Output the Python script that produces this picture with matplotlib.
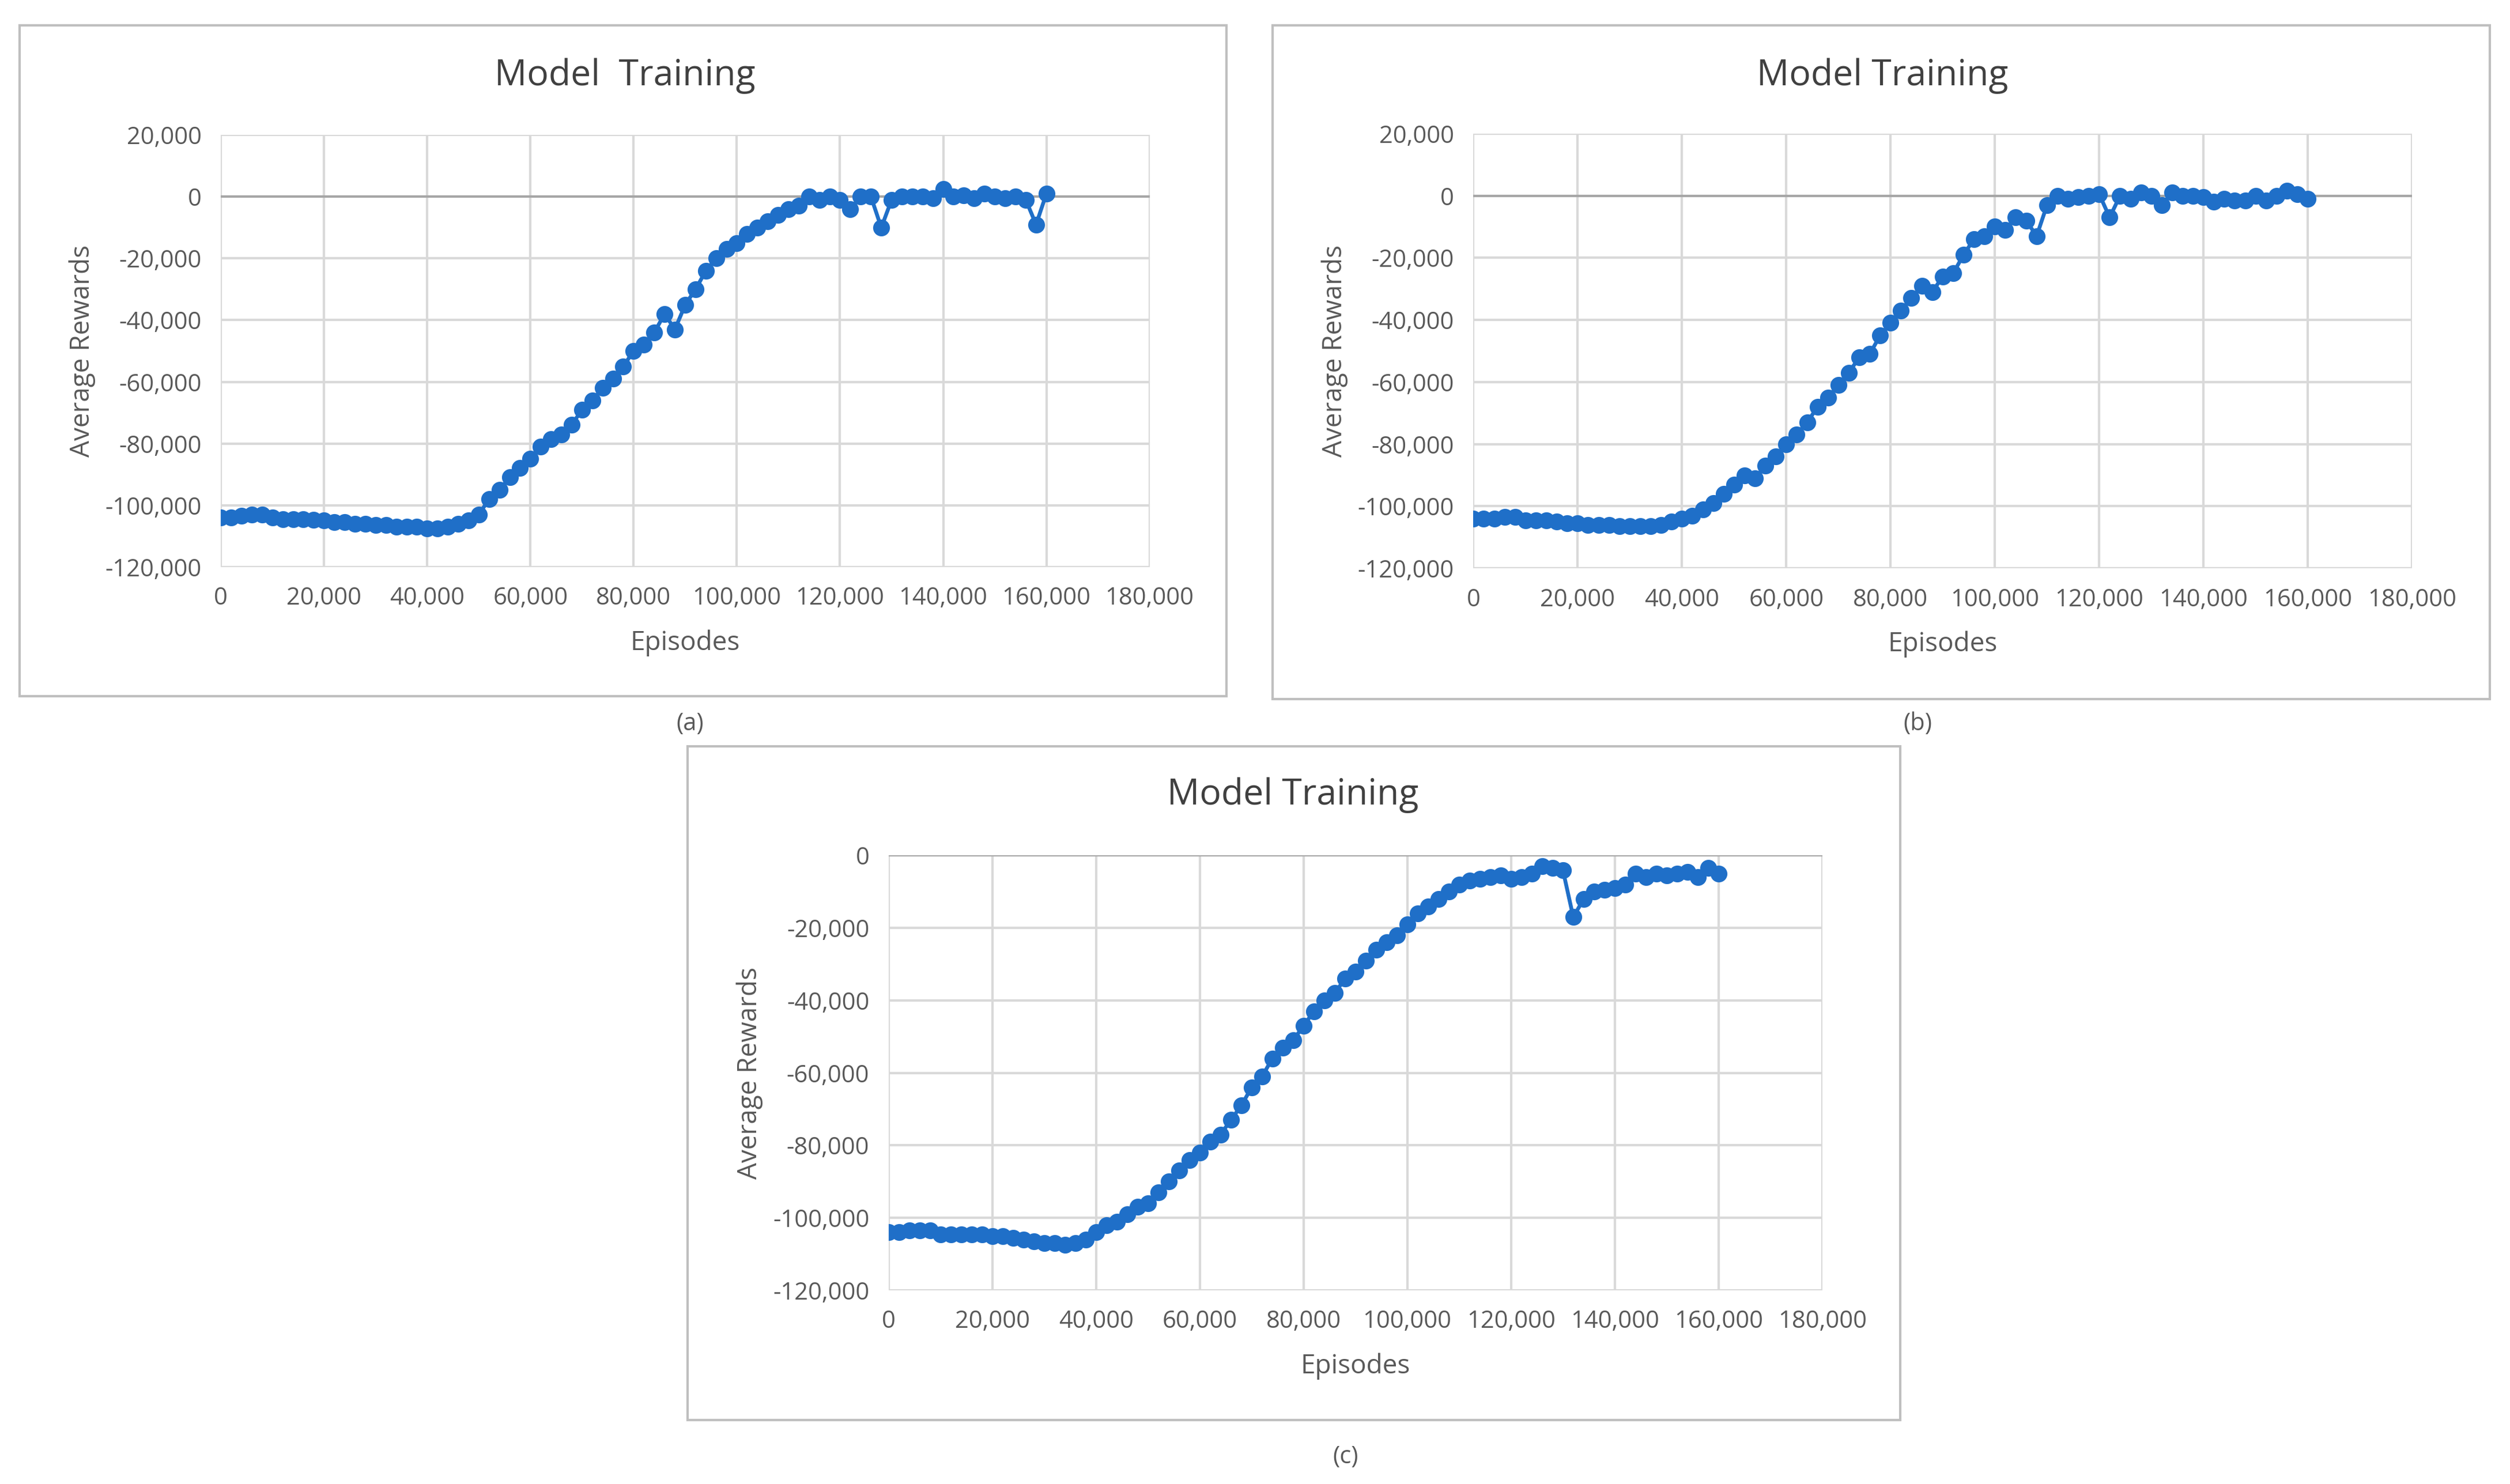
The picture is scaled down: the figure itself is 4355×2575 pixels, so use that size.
import matplotlib
matplotlib.use('Agg')
import matplotlib.pyplot as plt
from matplotlib.patches import Rectangle
from matplotlib.ticker import FuncFormatter

plt.rcParams['font.family'] = ['Open Sans', 'DejaVu Sans']

# episodes sampled every 2,000
episodes = list(range(0, 160001, 2000))

rewards_a = [
    -104000, -104000, -103500, -103000, -103000, -104000,
    -104500, -104500, -104500, -104800, -105000,
    -105500, -105500, -106000, -106000, -106500,
    -106500, -107000, -107000, -107000, -107500,
    -107500, -107000, -106000, -105000, -103000,
    -98000, -95000, -91000, -88000, -85000,
    -81000, -78500, -77000, -74000, -69000,
    -66000, -62000, -59000, -55000, -50000,
    -48000, -44000, -38000, -43000, -35000,
    -30000, -24000, -20000, -17000, -15000,
    -12000, -10000, -8000, -6000, -4000,
    -3000, 0, -1000, 0, -1000,
    -4000, 0, 0, -10000, -1000,
    0, 0, 0, -500, 2500,
    0, 500, -500, 1000, 0,
    -500, 0, -1000, -9000, 1000,
]

rewards_b = [
    -104000, -104000, -104000, -103500, -103500, -104500,
    -104500, -104500, -105000, -105500, -105500,
    -106000, -106000, -106000, -106500, -106500,
    -106500, -106500, -106000, -105000, -104000,
    -103000, -101000, -99000, -96000, -93000,
    -90000, -91000, -87000, -84000, -80000,
    -77000, -73000, -68000, -65000, -61000,
    -57000, -52000, -51000, -45000, -41000,
    -37000, -33000, -29000, -31000, -26000,
    -25000, -19000, -14000, -13000, -10000,
    -11000, -7000, -8000, -13000, -3000,
    0, -1000, -500, 0, 500,
    -7000, 0, -1000, 1000, 0,
    -3000, 1000, 0, 0, -500,
    -2000, -1000, -1500, -1500, 0,
    -1500, 0, 1500, 500, -1000,
]

rewards_c = [
    -104000, -104000, -103500, -103500, -103500, -104500,
    -104500, -104500, -104500, -104500, -105000,
    -105000, -105500, -106000, -106500, -107000,
    -107000, -107500, -107000, -106000, -104000,
    -102000, -101000, -99000, -97000, -96000,
    -93000, -90000, -87000, -84000, -82000,
    -79000, -77000, -73000, -69000, -64000,
    -61000, -56000, -53000, -51000, -47000,
    -43000, -40000, -38000, -34000, -32000,
    -29000, -26000, -24000, -22000, -19000,
    -16000, -14000, -12000, -10000, -8000,
    -7000, -6500, -6000, -5500, -6500,
    -6000, -5000, -3000, -3500, -4000,
    -17000, -12000, -10000, -9500, -9000,
    -8000, -5000, -6000, -5000, -5500,
    -5000, -4500, -6000, -3500, -5000,
]

blue = '#1f6fc8'
fig = plt.figure(figsize=(4355 / 300, 2575 / 300), dpi=300)

panels = [
    # axes rect, box rect, title, title pos, data, ylim, caption pos
    ([0.088, 0.618, 0.370, 0.291], [0.0077, 0.531, 0.481, 0.452], 'Model  Training', (0.249, 0.949),
     rewards_a, (-120000, 20000), (0.275, 0.508), '(a)'),
    ([0.587, 0.617, 0.374, 0.293], [0.507, 0.529, 0.485, 0.454], 'Model Training', (0.750, 0.949),
     rewards_b, (-120000, 20000), (0.764, 0.508), '(b)'),
    ([0.354, 0.1305, 0.372, 0.293], [0.274, 0.043, 0.483, 0.454], 'Model Training', (0.515, 0.464),
     rewards_c, (-120000, 0), (0.536, 0.014), '(c)'),
]

fmt = FuncFormatter(lambda v, p: f'{int(v):,}')

for rect, box, title, tpos, data, ylim, cap, caplabel in panels:
    fig.patches.append(Rectangle((box[0], box[1]), box[2], box[3], transform=fig.transFigure,
                                 fill=False, edgecolor='#bfbfbf', linewidth=1.0))
    ax = fig.add_axes(rect)
    ax.plot(episodes, data, '-o', color=blue, markersize=6, linewidth=1.6)
    ax.set_xlim(0, 180000)
    ax.set_ylim(*ylim)
    ax.set_xticks(range(0, 180001, 20000))
    ax.set_yticks(range(ylim[0], ylim[1] + 1, 20000))
    ax.xaxis.set_major_formatter(fmt)
    ax.yaxis.set_major_formatter(fmt)
    ax.grid(True, color='#d9d9d9', linewidth=1.0)
    ax.set_axisbelow(True)
    ax.axhline(0, color='#a6a6a6', linewidth=1.0, zorder=1)
    for s in ax.spines.values():
        s.set_visible(False)
    ax.tick_params(length=0, labelsize=10, labelcolor='#595959', pad=8)
    ax.set_xlabel('Episodes', fontsize=11, color='#595959', labelpad=8)
    ax.set_ylabel('Average Rewards', fontsize=11, color='#595959')
    fig.text(tpos[0], tpos[1], title, fontsize=15, color='#404040', ha='center', va='center')
    fig.text(cap[0], cap[1], caplabel, fontsize=10, color='#595959', ha='center')

fig.savefig('out.png', dpi=300, facecolor='white')
